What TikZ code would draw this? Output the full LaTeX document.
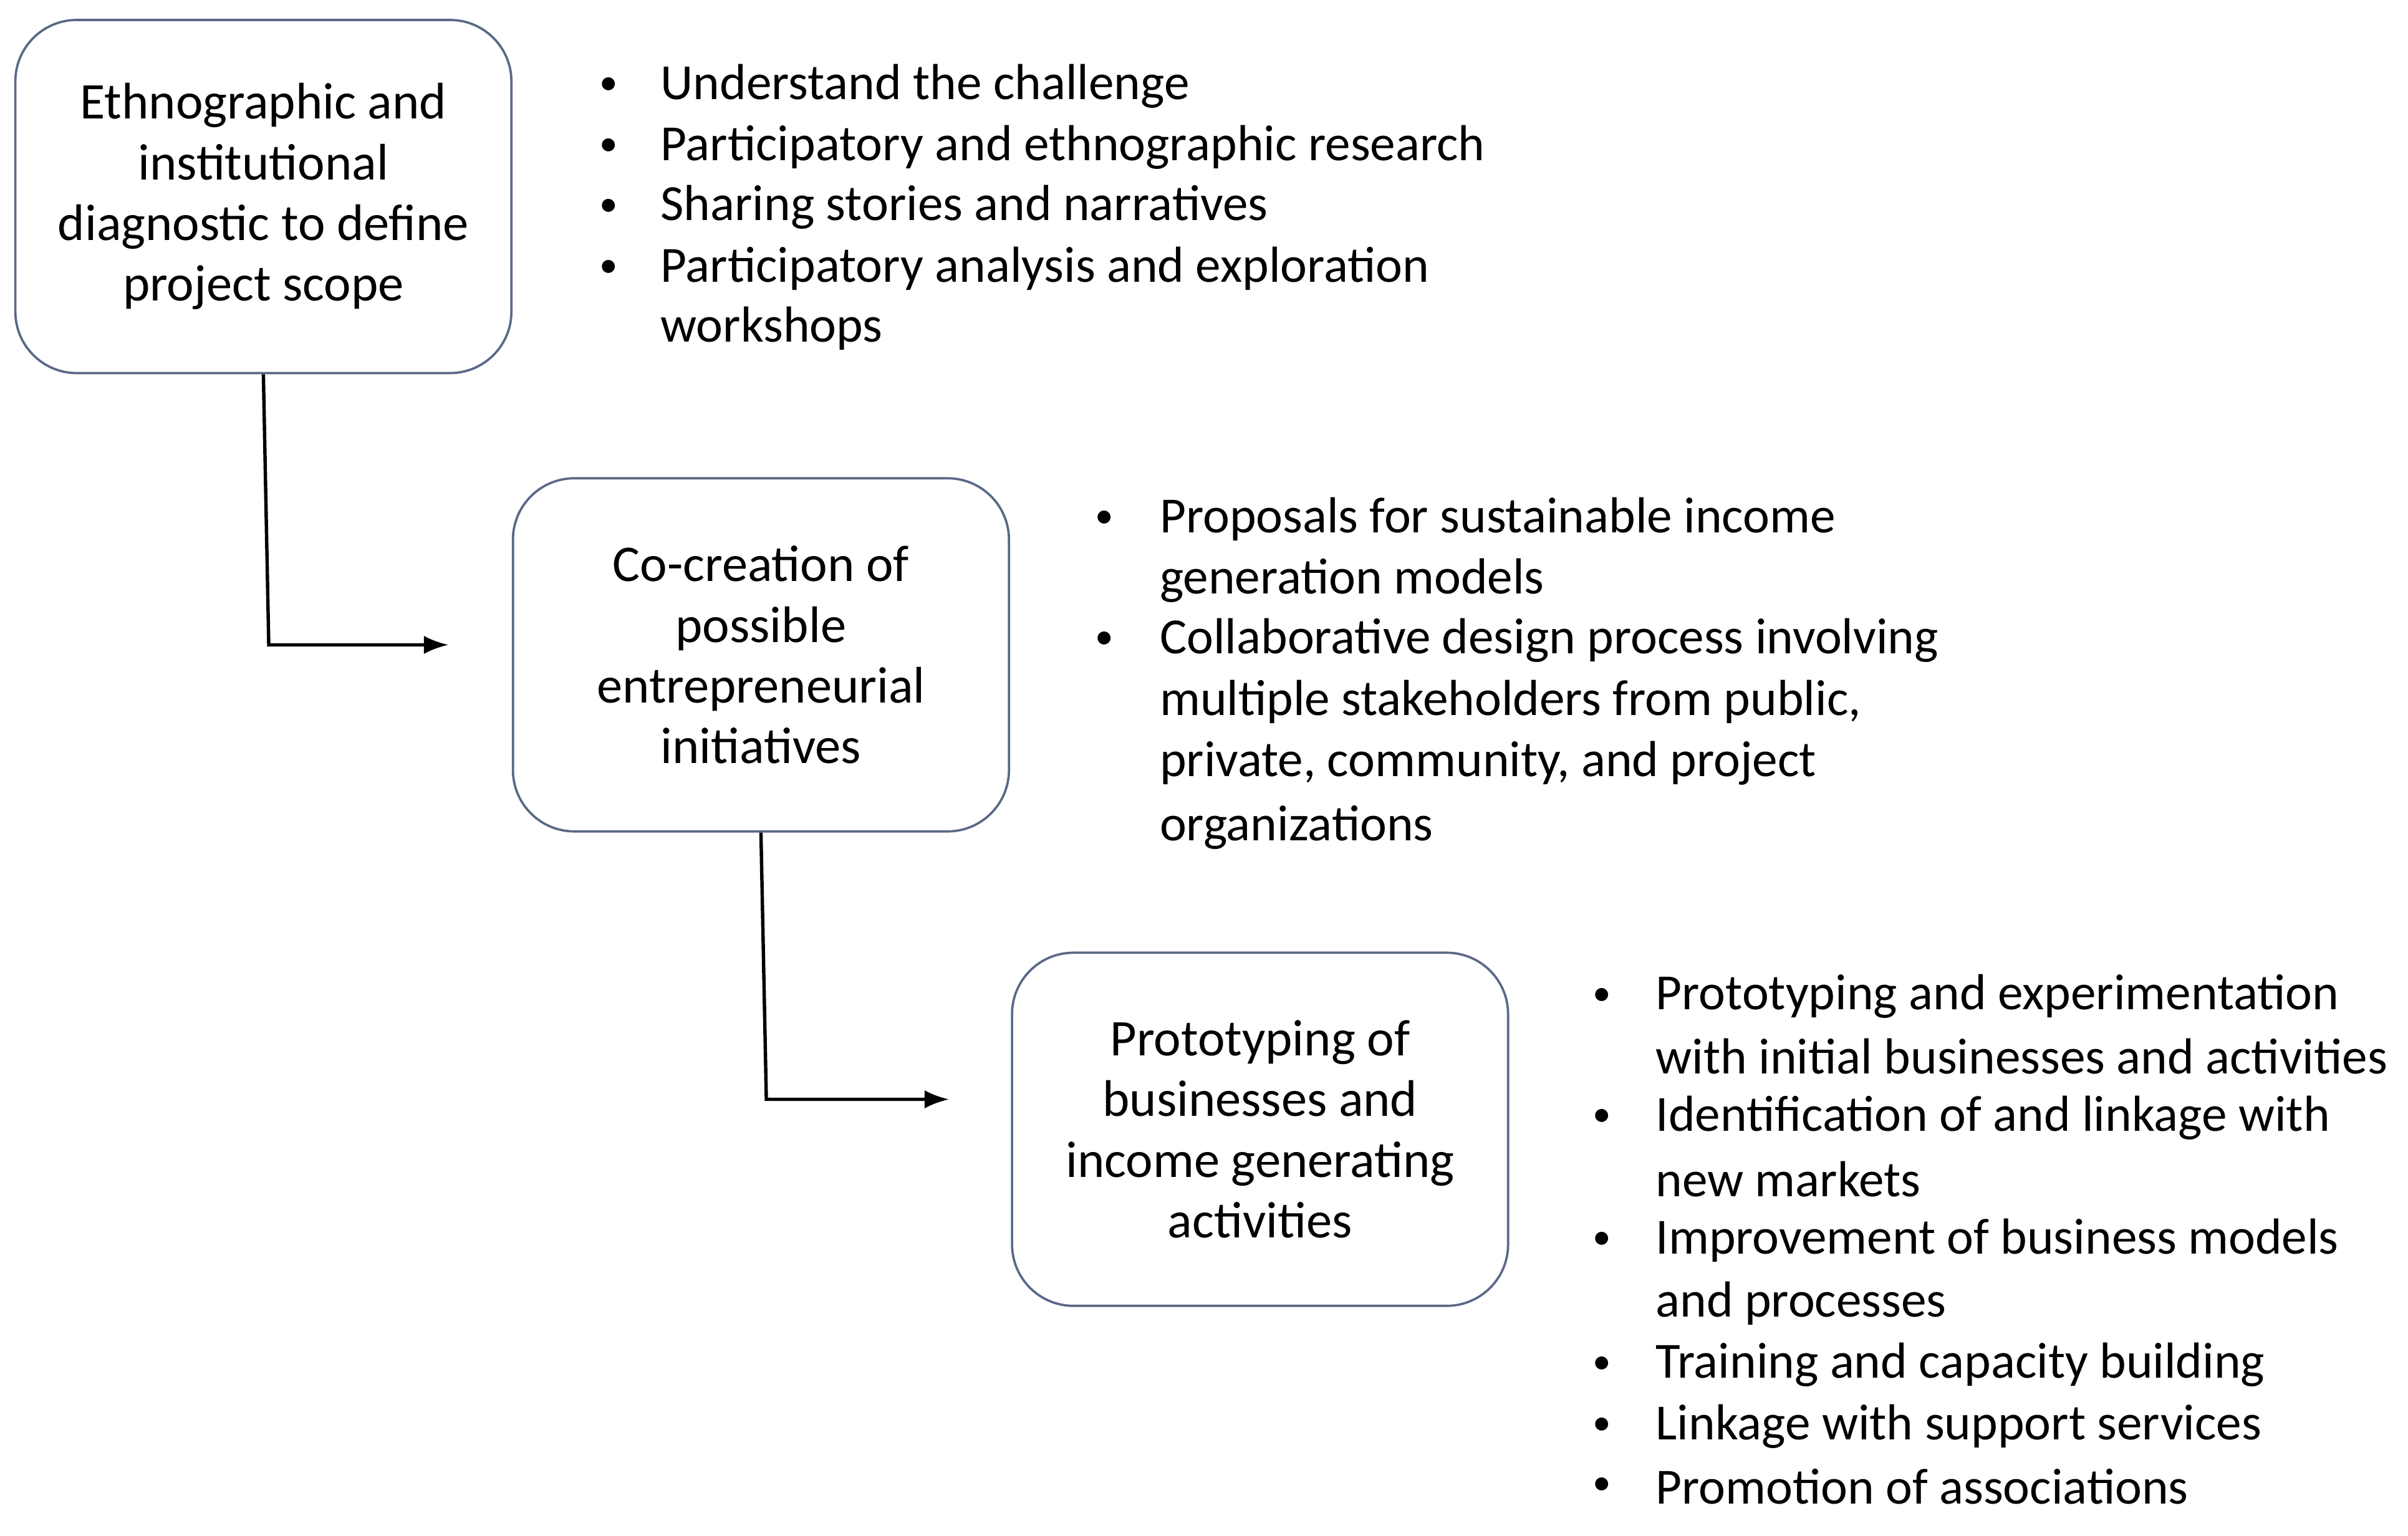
\documentclass[tikz,border=0pt]{standalone}
\usepackage{fontspec}
\setmainfont{Carlito}
\usetikzlibrary{arrows.meta}
\definecolor{boxc}{HTML}{5A6888}
\begin{document}
\begin{tikzpicture}[x=1pt,y=-1pt,
  stepbox/.style={draw=boxc, line width=1.5pt, rounded corners=40pt, minimum width=323pt, minimum height=230pt, align=center, font=\fontsize{33.5}{39.5}\selectfont},
  txt/.style={anchor=west, inner sep=0pt, font=\fontsize{33}{36}\selectfont},
  bul/.style={anchor=west, inner sep=0pt, font=\fontsize{24}{30}\selectfont},
  arr/.style={-{Latex[length=16pt,width=12pt]}, line width=2.2pt}]
\useasboundingbox (0,0) rectangle (1568,1000);
\node[stepbox] (b1) at (171.5,128) {Ethnographic and\\institutional\\diagnostic to define\\project scope};
\node[stepbox] (b2) at (495.5,426.5) {Co-creation of\\possible\\entrepreneurial\\initiatives};
\node[stepbox] (b3) at (820.5,735.5) {Prototyping of\\businesses and\\income generating\\activities};
\coordinate (t1) at (292,420);
\coordinate (t2) at (618,716);
\draw[arr] (b1.south) -- (175,420) -- (t1);
\draw[arr] (b2.south) -- (499,716) -- (t2);
\foreach \y/\t/\b in {56/Understand the challenge/1, 96/Participatory and ethnographic research/1, 135/Sharing stories and narratives/1, 175/Participatory analysis and exploration/1, 214/workshops/0}{
  \node[txt] (a\y) at (430,\y) {\t};
  \ifnum\b=1 \node[bul] (ab\y) at (390,\y) {•};\fi
}
\foreach \y/\t/\b in {338/Proposals for sustainable income/1, 378/generation models/0, 417/Collaborative design process involving/1, 457/multiple stakeholders from public{,}/0, 497/private{,} community{,} and project/0, 539/organizations/0}{
  \node[txt] (c\y) at (755,\y) {\t};
  \ifnum\b=1 \node[bul] (cb\y) at (713,\y) {•};\fi
}
\foreach \y/\t/\b in {649/Prototyping and experimentation/1, 688/with initial businesses and activities/0, 728/Identification of and linkage with/1, 768/new markets/0, 808/Improvement of business models/1, 849/and processes/0, 889/Training and capacity building/1, 929/Linkage with support services/1, 968/Promotion of associations/1}{
  \node[txt] (d\y) at (1078,\y) {\t};
  \ifnum\b=1 \node[bul] (db\y) at (1037,\y) {•};\fi
}
\end{tikzpicture}
\end{document}
